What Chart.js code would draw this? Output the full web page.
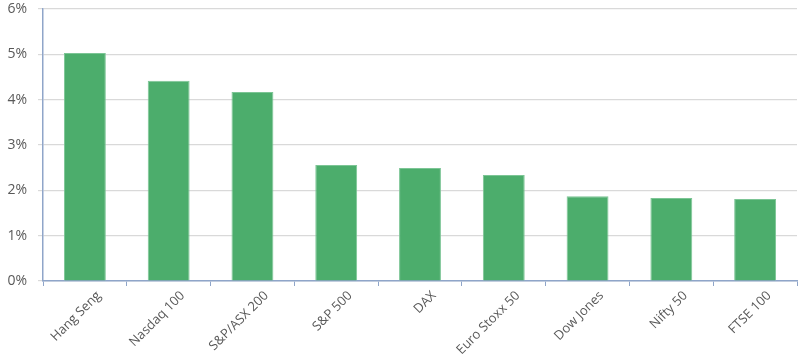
<!DOCTYPE html>
<html>
<head>
<meta charset="utf-8">
<script src="https://cdn.jsdelivr.net/npm/chart.js@4.4.0/dist/chart.umd.min.js"></script>
<style>
  html, body { margin: 0; padding: 0; background: #fff; }
  #wrap { width: 808px; height: 361px; position: relative; }
</style>
</head>
<body>
<div id="wrap"><canvas id="chart"></canvas></div>
<script>
// Index returns (percent).
const indices = [
  "Hang Seng", "Nasdaq 100", "S&P/ASX 200", "S&P 500", "DAX",
  "Euro Stoxx 50", "Dow Jones", "Nifty 50", "FTSE 100",
];
const returns = [5.03, 4.42, 4.17, 2.56, 2.49, 2.34, 1.87, 1.83, 1.81];
const yTicks = [0, 1, 2, 3, 4, 5, 6];

const FONT = '"Open Sans", "Noto Sans", sans-serif';
const INK = "#595959";
const GRID = "#d9d9d9";
const AXIS = "#8fa5c9";

new Chart(document.getElementById("chart"), {
  type: "bar",
  data: {
    labels: indices,
    datasets: [
      {
        data: returns,
        backgroundColor: "#4cad6c",
        borderColor: "#7cc595",
        borderWidth: 1,
        categoryPercentage: 1,
        barPercentage: 0.5,
      },
    ],
  },
  options: {
    responsive: true,
    maintainAspectRatio: false,
    animation: false,
    layout: { padding: { top: 0, right: 11, left: 0, bottom: 0 } },
    plugins: { legend: { display: false }, tooltip: { enabled: false } },
    scales: {
      x: {
        grid: {
          offset: true,
          drawOnChartArea: false,
          drawTicks: true,
          tickLength: 5,
          color: AXIS,
        },
        border: { color: AXIS, width: 1.5 },
        ticks: {
          font: { family: FONT, size: 13 },
          color: INK,
          maxRotation: 45,
          minRotation: 45,
          labelOffset: 14,
          padding: 2,
        },
        afterFit(scale) { scale.height = 80; },
      },
      y: {
        min: 0,
        max: 6,
        afterBuildTicks(scale) { scale.ticks = yTicks.map((v) => ({ value: v })); },
        grid: { color: GRID, lineWidth: 1.2, tickLength: 5 },
        border: { color: AXIS, width: 1.5 },
        ticks: {
          font: { family: FONT, size: 14 },
          color: INK,
          padding: 11,
          callback: (v) => v + "%",
        },
        afterFit(scale) {
          scale.width = 43;
          scale.paddingTop = 9;
          scale.paddingBottom = 0;
        },
      },
    },
  },
});
</script>
</body>
</html>
